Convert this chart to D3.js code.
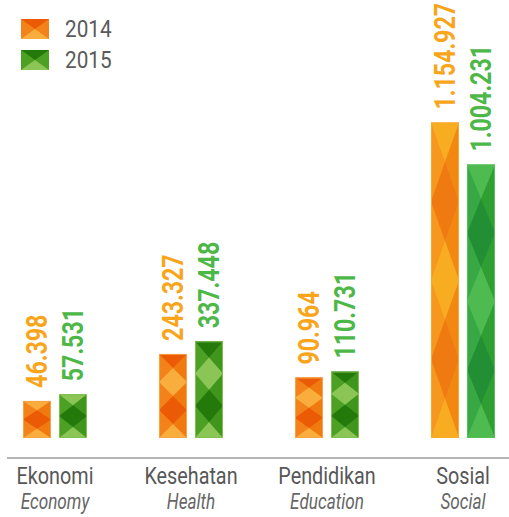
<!DOCTYPE html>
<meta charset="utf-8">
<style>
body {
  background: #fff;
  margin: 0;
  padding: 0;
}
text {
  font-family: Roboto, "Liberation Sans", sans-serif;
}
.value {
  font-size: 29px;
  font-weight: 700;
}
.cat {
  font-size: 23px;
  fill: #575757;
}
.cat-en {
  font-size: 22px;
  font-style: italic;
  fill: #666;
}
.legend text {
  font-size: 23px;
  fill: #5a5a5a;
}
</style>
<body>
<script src="https://d3js.org/d3.v7.min.js"></script>
<script>
// data
var categories = ["Ekonomi", "Kesehatan", "Pendidikan", "Sosial"];
var categoriesEn = ["Economy", "Health", "Education", "Social"];
var years = ["2014", "2015"];
var values2014 = [46398, 243327, 90964, 1154927];
var values2015 = [57531, 337448, 110731, 1004231];

var width = 509,
    height = 517,
    baseline = 438;

var palettes = {
  "2014": {
    normal: {light: "#F8AD3D", dark: "#EB5A05", midL: "#F3821A", midR: "#F07A10", edge: "#F7A243", text: "#F9A51C"},
    soft:   {light: "#F8AC22", dark: "#F07A12", midL: "#F6971E", midR: "#F28812", edge: "#F9A928"}
  },
  "2015": {
    normal: {light: "#8BC556", dark: "#237A0B", midL: "#4CA024", midR: "#40951C", edge: "#7FBF4C", text: "#4DB748"},
    soft:   {light: "#4DBB50", dark: "#238F35", midL: "#37A844", midR: "#2F9E33", edge: "#55BE55"}
  }
};

var idn = d3.formatLocale({decimal: ",", thousands: ".", grouping: [3], currency: ["Rp", ""]});
var fmt = idn.format(",d");

var rows = categories.map(function(c, i) {
  return {cat: c, en: categoriesEn[i], vals: {"2014": values2014[i], "2015": values2015[i]}};
});

// bars in the infographic are not to scale: broken linear scale
var y = d3.scaleLinear()
    .domain([0, 50000, 100000, 400000, 1200000])
    .range([baseline, 398, 373, 333, 110]);

var x0 = d3.scaleBand()
    .domain(categories)
    .range([-13, 531]);

var x1 = d3.scaleBand()
    .domain(years)
    .range([0, 64])
    .paddingInner(2 - 64 / 36);

var svg = d3.select("body").append("svg")
    .attr("width", width)
    .attr("height", height);

function diamond(cx, cy, hw, hh) {
  return [[cx, cy - hh], [cx + hw, cy], [cx, cy + hh], [cx - hw, cy]].join(" ");
}

var clipId = 0;
function drawBar(g, bx, w, yTop, yBot, year) {
  var h = yBot - yTop;
  var n = h < 55 ? 2 : h < 150 ? 3 : 4;
  var pal = n === 4 ? palettes[year].soft : palettes[year].normal;
  var s = h / n;
  var id = "clip" + (clipId++);
  g.append("clipPath").attr("id", id)
    .append("rect")
      .attr("x", bx).attr("y", yTop)
      .attr("width", w).attr("height", h);
  var b = g.append("g").attr("clip-path", "url(#" + id + ")");
  b.append("rect")
      .attr("x", bx).attr("y", yTop)
      .attr("width", w / 2).attr("height", h)
      .attr("fill", pal.midL);
  b.append("rect")
      .attr("x", bx + w / 2).attr("y", yTop)
      .attr("width", w / 2).attr("height", h)
      .attr("fill", pal.midR);
  d3.range(n + 1).forEach(function(k) {
    b.append("polygon")
        .attr("points", diamond(bx + w / 2, yBot - k * s, w / 2, s / 2))
        .attr("fill", k % 2 === 0 ? pal.light : pal.dark);
  });
  g.append("rect")
      .attr("x", bx + 0.5).attr("y", yTop + 0.5)
      .attr("width", w - 1).attr("height", h - 1)
      .attr("fill", "none")
      .attr("stroke", pal.edge)
      .attr("stroke-width", 1);
}

var groups = svg.selectAll(".group")
    .data(rows)
  .enter().append("g")
    .attr("class", "group")
    .attr("transform", function(d) {
      return "translate(" + (x0(d.cat) + x0.bandwidth() / 2 - 32) + ",0)";
    });

groups.each(function(d) {
  var g = d3.select(this);
  years.forEach(function(yr) {
    var v = d.vals[yr];
    var bx = x1(yr), w = x1.bandwidth();
    drawBar(g, bx, w, y(v), y(0), yr);
    g.append("text")
        .attr("class", "value")
        .attr("transform", "translate(" + (bx + w / 2 + 10) + "," + (y(v) - 13) + ") rotate(-90) scale(0.8,1)")
        .attr("fill", palettes[yr].normal.text)
        .text(fmt(v));
  });
});

// axis line
svg.append("line")
    .attr("x1", 7).attr("x2", width)
    .attr("y1", 458).attr("y2", 458)
    .attr("stroke", "#9a9a9a")
    .attr("stroke-width", 1.5);

// category labels
var labels = svg.selectAll(".label")
    .data(rows)
  .enter().append("g")
    .attr("class", "label")
    .attr("transform", function(d) {
      return "translate(" + (x0(d.cat) + x0.bandwidth() / 2) + ",0)";
    });
labels.append("text")
    .attr("class", "cat")
    .attr("text-anchor", "middle")
    .attr("transform", "translate(0,484) scale(0.86,1)")
    .text(function(d) { return d.cat; });
labels.append("text")
    .attr("class", "cat-en")
    .attr("text-anchor", "middle")
    .attr("transform", "translate(0,509) scale(0.78,1)")
    .text(function(d) { return d.en; });

// legend
var legend = svg.append("g").attr("class", "legend");
var ly = d3.scalePoint().domain(years).range([19, 50]);
var li = legend.selectAll("g")
    .data(years)
  .enter().append("g")
    .attr("transform", function(d) { return "translate(21," + ly(d) + ")"; });
li.append("rect")
    .attr("width", 28).attr("height", 20)
    .attr("fill", function(d) { return palettes[d].normal.midL; });
li.append("polygon")
    .attr("points", "0,0 28,0 14,10")
    .attr("fill", function(d) { return palettes[d].normal.dark; });
li.append("polygon")
    .attr("points", "0,20 28,20 14,10")
    .attr("fill", function(d) { return palettes[d].normal.light; });
li.append("text")
    .attr("transform", "translate(44,18) scale(0.9,1)")
    .text(function(d) { return d; });
</script>
</body>
